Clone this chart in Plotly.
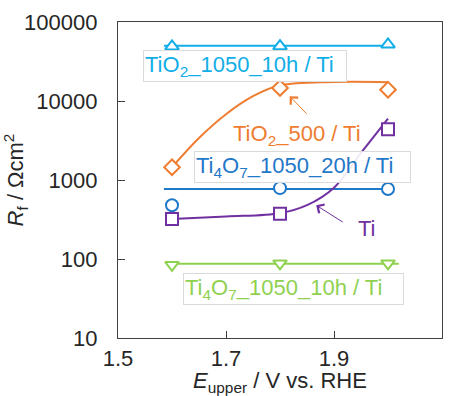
import math
import plotly.graph_objects as go

# Upper potential limit (V vs. RHE) of each measurement
E_upper = [1.6, 1.8, 2.0]

# Measured film resistance R_f (Ohm cm2) for each electrode
rf_tio2_1050_10h = [49000, 49500, 52000]
rf_tio2_500 = [1450, 14600, 13900]
rf_ti4o7_1050_20h = [480, 790, 770]
rf_ti = [320, 375, 4400]
rf_ti4o7_1050_10h = [84, 88, 88]

# Guide lines (constant level for the stable electrodes)
flat_x = [1.585, 2.0]
flat_tio2_1050_10h = [50000, 50000]
flat_ti4o7_1050_20h = [770, 770]
flat_x_green = [1.59, 2.02]
flat_ti4o7_1050_10h = [87, 87]

# Smooth trend curves for the changing electrodes
trend_x_tio2_500 = [1.6, 1.65, 1.7, 1.75, 1.8, 1.9, 2.0]
trend_tio2_500 = [1450, 3400, 6800, 11500, 15800, 17400, 17300]
trend_x_ti = [1.6, 1.7, 1.8, 1.85, 1.9, 1.95, 2.0]
trend_ti = [320, 345, 380, 480, 800, 2200, 6000]

C_CYAN = "#12AEE8"
C_ORANGE = "#EE7D31"
C_BLUE = "#1F78C8"
C_PURPLE = "#7030A0"
C_GREEN = "#8FD14F"

FONT = "Liberation Sans, Arial, sans-serif"
FS = 22

fig = go.Figure()


def add_line(x, y, color, shape="linear"):
    fig.add_trace(go.Scatter(x=x, y=y, mode="lines", line=dict(color=color, width=2, shape=shape),
                             hoverinfo="skip", showlegend=False))


def add_markers(y, color, symbol, size=12):
    fig.add_trace(go.Scatter(x=E_upper, y=y, mode="markers",
                             marker=dict(symbol=symbol, size=size, color="white",
                                         line=dict(color=color, width=2)),
                             showlegend=False))


add_line(flat_x, flat_tio2_1050_10h, C_CYAN)
add_line(trend_x_tio2_500, trend_tio2_500, C_ORANGE, "spline")
add_line(flat_x, flat_ti4o7_1050_20h, C_BLUE)
add_line(trend_x_ti, trend_ti, C_PURPLE, "spline")
add_line(flat_x_green, flat_ti4o7_1050_10h, C_GREEN)

add_markers(rf_tio2_1050_10h, C_CYAN, "triangle-up", 12)
add_markers(rf_tio2_500, C_ORANGE, "diamond", 12)
add_markers(rf_ti4o7_1050_20h, C_BLUE, "circle", 12)
add_markers(rf_ti, C_PURPLE, "square", 12)
add_markers(rf_ti4o7_1050_10h, C_GREEN, "triangle-down", 12)


def label(text, x, y, color, boxed=True, width=None):
    fig.add_annotation(x=x, y=math.log10(y), xref="x", yref="y", text=text, showarrow=False,
                       xanchor="left", yanchor="middle", align="left", width=width,
                       font=dict(family=FONT, size=FS, color=color),
                       bgcolor="rgba(255,255,255,0.9)" if boxed else None,
                       bordercolor="#DADADA" if boxed else None,
                       borderwidth=1 if boxed else 0, borderpad=1)


def arrow(x_head, y_head, x_tail, y_tail, color):
    fig.add_annotation(x=x_head, y=math.log10(y_head), ax=x_tail, ay=math.log10(y_tail),
                       xref="x", yref="y", axref="x", ayref="y", text="",
                       showarrow=True, arrowhead=4, arrowsize=2, arrowwidth=1,
                       arrowcolor=color)


label("TiO<sub>2</sub>_1050_10h / Ti", 1.5466, 10 ** 4.443, C_CYAN, width=200)
label("TiO<sub>2</sub>_500 / Ti", 1.712, 10 ** 3.57, C_ORANGE, boxed=False)
label("Ti<sub>4</sub>O<sub>7</sub>_1050_20h / Ti", 1.640, 10 ** 3.165, C_BLUE, width=213)
label("Ti", 1.943, 10 ** 2.392, C_PURPLE, boxed=False)
label("Ti<sub>4</sub>O<sub>7</sub>_1050_10h / Ti", 1.621, 10 ** 1.62, C_GREEN, width=217)

arrow(1.818, 10 ** 4.06, 1.852, 10 ** 3.82, C_ORANGE)
arrow(1.867, 10 ** 2.68, 1.919, 10 ** 2.456, C_PURPLE)

y_ticks = [10, 100, 1000, 10000, 100000]
x_ticks = [1.5, 1.7, 1.9, 2.1]

axis_common = dict(showline=True, linecolor="#404040", linewidth=1.3, mirror=True,
                   ticks="inside", ticklen=7, tickwidth=1, tickcolor="#404040",
                   showgrid=False, zeroline=False, automargin=False,
                   tickfont=dict(family=FONT, size=FS, color="#262626"))

fig.update_xaxes(range=[1.5, 2.1], tickvals=x_ticks, ticktext=[f"{v:.1f}" for v in x_ticks],
                 ticklabelstandoff=0,
                 title=dict(text="<i>E</i><sub>upper</sub> / V vs. RHE",
                            font=dict(family=FONT, size=FS, color="#262626"), standoff=19),
                 **axis_common)
fig.update_yaxes(type="log", range=[1, 5], tickvals=y_ticks, ticktext=[str(v) for v in y_ticks],
                 ticklabelstandoff=15,
                 title=dict(text="<i>R</i><sub>f</sub> / Ωcm<sup>2</sup>",
                            font=dict(family=FONT, size=FS, color="#262626"), standoff=5),
                 **axis_common)

fig.update_layout(width=455, height=396, margin=dict(l=118, r=13, t=22, b=58),
                  paper_bgcolor="white", plot_bgcolor="white",
                  font=dict(family=FONT))

fig.write_html("out.html")
